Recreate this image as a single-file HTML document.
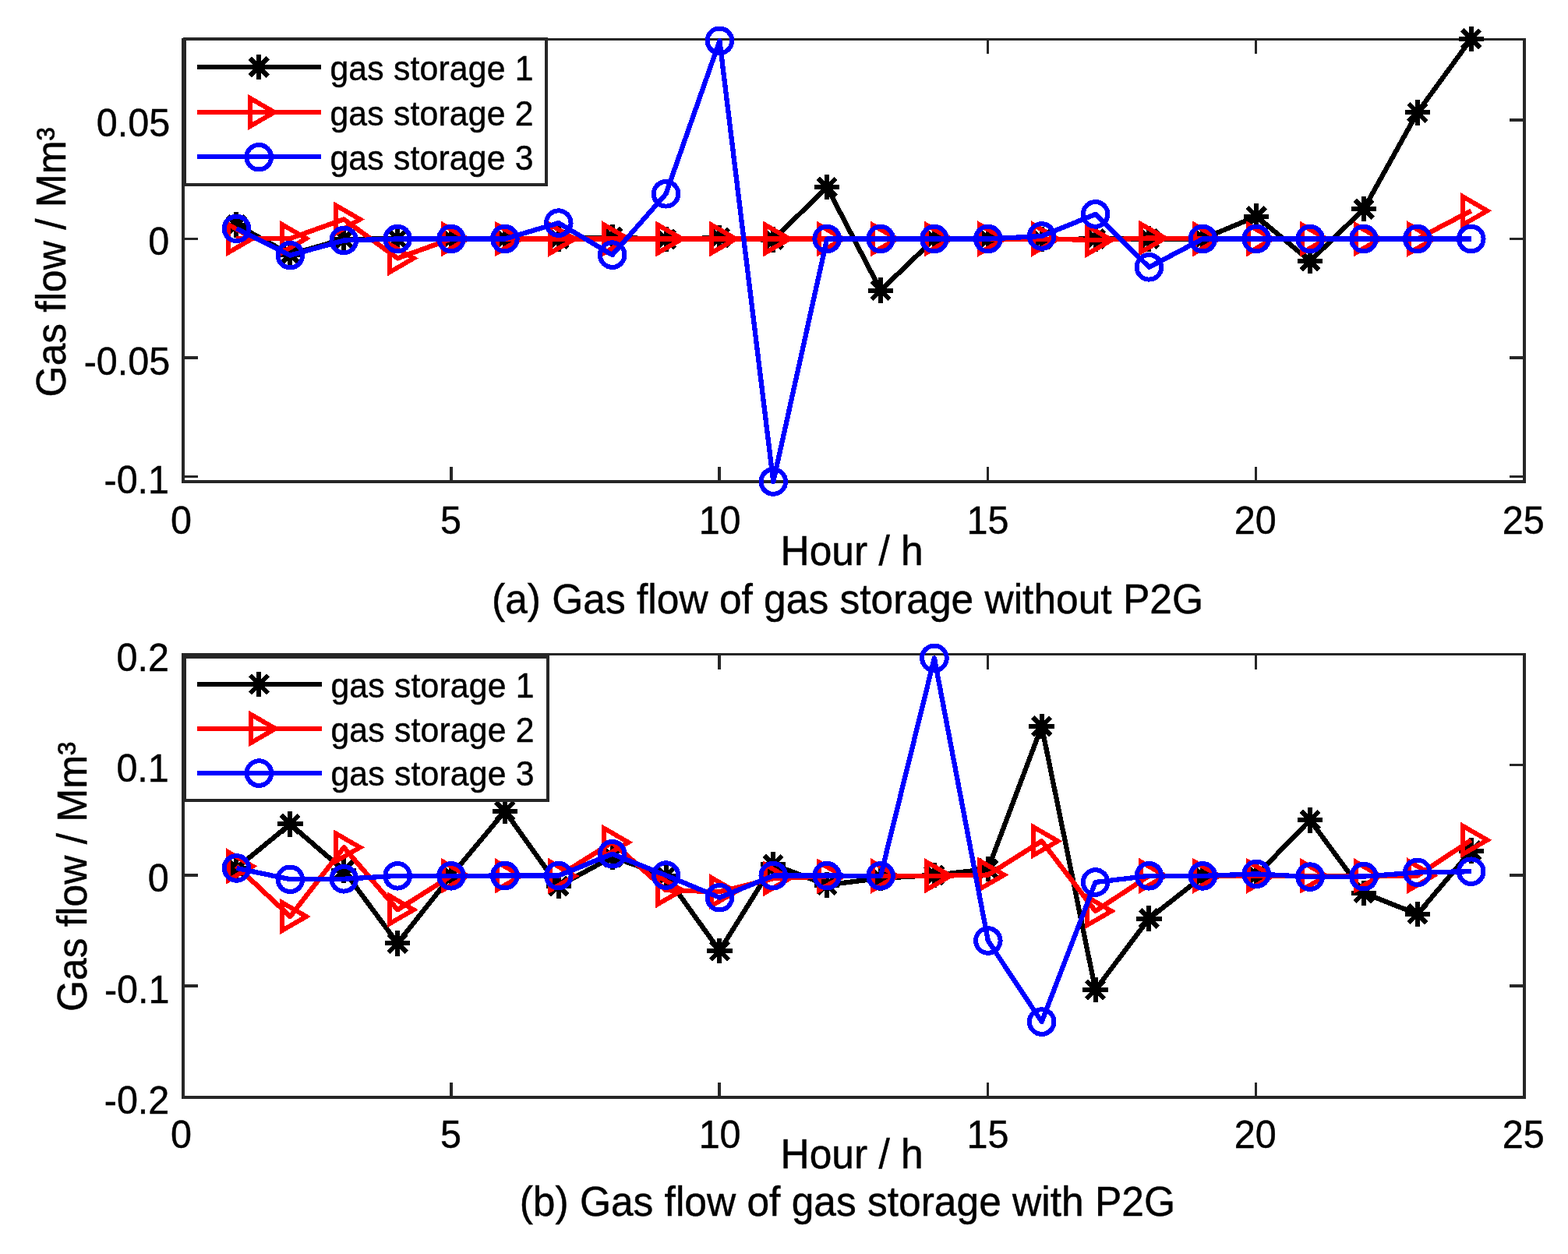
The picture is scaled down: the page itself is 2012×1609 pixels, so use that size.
<!DOCTYPE html>
<html lang="en">
<head>
<meta charset="utf-8">
<title>Gas flow of gas storage</title>
<style>
html,body{margin:0;padding:0;background:#fff;}
body{width:2012px;height:1609px;overflow:hidden;}
svg{display:block;}
svg text{font-family:"Liberation Sans",sans-serif;fill:#000;stroke:#000;stroke-width:0.45px;}
</style>
</head>
<body>
<svg width="2012" height="1609" viewBox="0 0 2012 1609">
<rect width="2012" height="1609" fill="#fff"/>
<g id="plot-a" shape-rendering="crispEdges">
<path d="M233 49h1725v3h-1725zM233 616h1725v4h-1725zM233 49h4v571h-4zM1954 49h4v571h-4zM577 599h4v17h-4zM577 52h4v17h-4zM921 599h4v17h-4zM921 52h4v17h-4zM1266 599h3v17h-3zM1266 52h3v17h-3zM1610 599h3v17h-3zM1610 52h3v17h-3zM237 152h17v4h-17zM1937 152h17v4h-17zM237 305h17v3h-17zM1937 305h17v3h-17zM237 457h17v4h-17zM1937 457h17v4h-17zM237 610h17v3h-17zM1937 610h17v3h-17z" fill="#262626" shape-rendering="crispEdges"/>
<polyline points="303.48,288.5 372.36,326.5 441.24,306.8 510.12,306.5 579,306.5 647.88,306.3 716.76,306.5 785.64,304.5 854.52,307 923.4,305 992.28,307.5 1061.16,240.1 1130.04,372.6 1198.92,306.5 1267.8,306.5 1336.68,307 1405.56,306.5 1474.44,306.5 1543.32,306.5 1612.2,277.6 1681.08,335 1749.96,268.2 1818.84,144.4 1887.72,49.9" fill="none" stroke="#000" stroke-width="6.3" stroke-linejoin="round"/>
<path d="M287.28 288.5H319.68M303.48 272.3V304.7M292.02 277.04L314.94 299.96M292.02 299.96L314.94 277.04M356.16 326.5H388.56M372.36 310.3V342.7M360.9 315.04L383.82 337.96M360.9 337.96L383.82 315.04M425.04 306.8H457.44M441.24 290.6V323M429.78 295.34L452.7 318.26M429.78 318.26L452.7 295.34M493.92 306.5H526.32M510.12 290.3V322.7M498.66 295.04L521.58 317.96M498.66 317.96L521.58 295.04M562.8 306.5H595.2M579 290.3V322.7M567.54 295.04L590.46 317.96M567.54 317.96L590.46 295.04M631.68 306.3H664.08M647.88 290.1V322.5M636.42 294.84L659.34 317.76M636.42 317.76L659.34 294.84M700.56 306.5H732.96M716.76 290.3V322.7M705.3 295.04L728.22 317.96M705.3 317.96L728.22 295.04M769.44 304.5H801.84M785.64 288.3V320.7M774.18 293.04L797.1 315.96M774.18 315.96L797.1 293.04M838.32 307H870.72M854.52 290.8V323.2M843.06 295.54L865.98 318.46M843.06 318.46L865.98 295.54M907.2 305H939.6M923.4 288.8V321.2M911.94 293.54L934.86 316.46M911.94 316.46L934.86 293.54M976.08 307.5H1008.48M992.28 291.3V323.7M980.82 296.04L1003.74 318.96M980.82 318.96L1003.74 296.04M1044.96 240.1H1077.36M1061.16 223.9V256.3M1049.7 228.64L1072.62 251.56M1049.7 251.56L1072.62 228.64M1113.84 372.6H1146.24M1130.04 356.4V388.8M1118.58 361.14L1141.5 384.06M1118.58 384.06L1141.5 361.14M1182.72 306.5H1215.12M1198.92 290.3V322.7M1187.46 295.04L1210.38 317.96M1187.46 317.96L1210.38 295.04M1251.6 306.5H1284M1267.8 290.3V322.7M1256.34 295.04L1279.26 317.96M1256.34 317.96L1279.26 295.04M1320.48 307H1352.88M1336.68 290.8V323.2M1325.22 295.54L1348.14 318.46M1325.22 318.46L1348.14 295.54M1389.36 306.5H1421.76M1405.56 290.3V322.7M1394.1 295.04L1417.02 317.96M1394.1 317.96L1417.02 295.04M1458.24 306.5H1490.64M1474.44 290.3V322.7M1462.98 295.04L1485.9 317.96M1462.98 317.96L1485.9 295.04M1527.12 306.5H1559.52M1543.32 290.3V322.7M1531.86 295.04L1554.78 317.96M1531.86 317.96L1554.78 295.04M1596 277.6H1628.4M1612.2 261.4V293.8M1600.74 266.14L1623.66 289.06M1600.74 289.06L1623.66 266.14M1664.88 335H1697.28M1681.08 318.8V351.2M1669.62 323.54L1692.54 346.46M1669.62 346.46L1692.54 323.54M1733.76 268.2H1766.16M1749.96 252V284.4M1738.5 256.74L1761.42 279.66M1738.5 279.66L1761.42 256.74M1802.64 144.4H1835.04M1818.84 128.2V160.6M1807.38 132.94L1830.3 155.86M1807.38 155.86L1830.3 132.94M1871.52 49.9H1903.92M1887.72 33.7V66.1M1876.26 38.44L1899.18 61.36M1876.26 61.36L1899.18 38.44" fill="none" stroke="#000" stroke-width="6"/>
<polyline points="303.48,306 372.36,306 441.24,281.4 510.12,331.4 579,306.5 647.88,306.5 716.76,306.5 785.64,306.5 854.52,306.5 923.4,306.5 992.28,306.5 1061.16,306.5 1130.04,306.5 1198.92,306.5 1267.8,306.5 1336.68,306.5 1405.56,308 1474.44,305.5 1543.32,306.5 1612.2,306.5 1681.08,306.5 1749.96,306.5 1818.84,306.5 1887.72,270.4" fill="none" stroke="#f00" stroke-width="6.3" stroke-linejoin="round"/>
<path d="M293.13 288.07L324.18 306L293.13 323.93ZM362.01 288.07L393.06 306L362.01 323.93ZM430.89 263.47L461.94 281.4L430.89 299.33ZM499.77 313.47L530.82 331.4L499.77 349.33ZM568.65 288.57L599.7 306.5L568.65 324.43ZM637.53 288.57L668.58 306.5L637.53 324.43ZM706.41 288.57L737.46 306.5L706.41 324.43ZM775.29 288.57L806.34 306.5L775.29 324.43ZM844.17 288.57L875.22 306.5L844.17 324.43ZM913.05 288.57L944.1 306.5L913.05 324.43ZM981.93 288.57L1012.98 306.5L981.93 324.43ZM1050.81 288.57L1081.86 306.5L1050.81 324.43ZM1119.69 288.57L1150.74 306.5L1119.69 324.43ZM1188.57 288.57L1219.62 306.5L1188.57 324.43ZM1257.45 288.57L1288.5 306.5L1257.45 324.43ZM1326.33 288.57L1357.38 306.5L1326.33 324.43ZM1395.21 290.07L1426.26 308L1395.21 325.93ZM1464.09 287.57L1495.14 305.5L1464.09 323.43ZM1532.97 288.57L1564.02 306.5L1532.97 324.43ZM1601.85 288.57L1632.9 306.5L1601.85 324.43ZM1670.73 288.57L1701.78 306.5L1670.73 324.43ZM1739.61 288.57L1770.66 306.5L1739.61 324.43ZM1808.49 288.57L1839.54 306.5L1808.49 324.43ZM1877.37 252.47L1908.42 270.4L1877.37 288.33Z" fill="none" stroke="#f00" stroke-width="6" stroke-miterlimit="10"/>
<polyline points="303.48,293.4 372.36,327.6 441.24,308.5 510.12,306.5 579,306.5 647.88,306.5 716.76,286.1 785.64,327.1 854.52,248.8 923.4,52.3 992.28,618 1061.16,306.5 1130.04,306.5 1198.92,306.5 1267.8,306.5 1336.68,303 1405.56,274.9 1474.44,342.8 1543.32,306.5 1612.2,306.5 1681.08,306.5 1749.96,306.5 1818.84,306.5 1887.72,306.5" fill="none" stroke="#00f" stroke-width="6.3" stroke-linejoin="round"/>
<circle cx="303.48" cy="293.4" r="15.8" fill="none" stroke="#00f" stroke-width="6"/>
<circle cx="372.36" cy="327.6" r="15.8" fill="none" stroke="#00f" stroke-width="6"/>
<circle cx="441.24" cy="308.5" r="15.8" fill="none" stroke="#00f" stroke-width="6"/>
<circle cx="510.12" cy="306.5" r="15.8" fill="none" stroke="#00f" stroke-width="6"/>
<circle cx="579" cy="306.5" r="15.8" fill="none" stroke="#00f" stroke-width="6"/>
<circle cx="647.88" cy="306.5" r="15.8" fill="none" stroke="#00f" stroke-width="6"/>
<circle cx="716.76" cy="286.1" r="15.8" fill="none" stroke="#00f" stroke-width="6"/>
<circle cx="785.64" cy="327.1" r="15.8" fill="none" stroke="#00f" stroke-width="6"/>
<circle cx="854.52" cy="248.8" r="15.8" fill="none" stroke="#00f" stroke-width="6"/>
<circle cx="923.4" cy="52.3" r="15.8" fill="none" stroke="#00f" stroke-width="6"/>
<circle cx="992.28" cy="618" r="15.8" fill="none" stroke="#00f" stroke-width="6"/>
<circle cx="1061.16" cy="306.5" r="15.8" fill="none" stroke="#00f" stroke-width="6"/>
<circle cx="1130.04" cy="306.5" r="15.8" fill="none" stroke="#00f" stroke-width="6"/>
<circle cx="1198.92" cy="306.5" r="15.8" fill="none" stroke="#00f" stroke-width="6"/>
<circle cx="1267.8" cy="306.5" r="15.8" fill="none" stroke="#00f" stroke-width="6"/>
<circle cx="1336.68" cy="303" r="15.8" fill="none" stroke="#00f" stroke-width="6"/>
<circle cx="1405.56" cy="274.9" r="15.8" fill="none" stroke="#00f" stroke-width="6"/>
<circle cx="1474.44" cy="342.8" r="15.8" fill="none" stroke="#00f" stroke-width="6"/>
<circle cx="1543.32" cy="306.5" r="15.8" fill="none" stroke="#00f" stroke-width="6"/>
<circle cx="1612.2" cy="306.5" r="15.8" fill="none" stroke="#00f" stroke-width="6"/>
<circle cx="1681.08" cy="306.5" r="15.8" fill="none" stroke="#00f" stroke-width="6"/>
<circle cx="1749.96" cy="306.5" r="15.8" fill="none" stroke="#00f" stroke-width="6"/>
<circle cx="1818.84" cy="306.5" r="15.8" fill="none" stroke="#00f" stroke-width="6"/>
<circle cx="1887.72" cy="306.5" r="15.8" fill="none" stroke="#00f" stroke-width="6"/>
<rect x="237" y="50" width="464" height="187" fill="#fff" stroke="#262626" stroke-width="4" shape-rendering="crispEdges"/>
<line x1="253" y1="86" x2="412.3" y2="86" stroke="#000" stroke-width="6"/>
<path d="M316 86H348.4M332.2 69.8V102.2M320.74 74.54L343.66 97.46M320.74 97.46L343.66 74.54" fill="none" stroke="#000" stroke-width="6"/>
<text transform="translate(423.4 102.7) scale(1 1.03)" font-size="42.7" letter-spacing="0.2">gas storage 1</text>
<line x1="253" y1="144" x2="412.3" y2="144" stroke="#f00" stroke-width="6"/>
<path d="M321.05 126.07L352.1 144L321.05 161.93Z" fill="none" stroke="#f00" stroke-width="6" stroke-miterlimit="10"/>
<text transform="translate(423.4 160.7) scale(1 1.03)" font-size="42.7" letter-spacing="0.2">gas storage 2</text>
<line x1="253" y1="201.2" x2="412.3" y2="201.2" stroke="#00f" stroke-width="6"/>
<circle cx="332.2" cy="201.7" r="15.8" fill="none" stroke="#00f" stroke-width="6"/>
<text transform="translate(423.4 217.9) scale(1 1.03)" font-size="42.7" letter-spacing="0.2">gas storage 3</text>
<text transform="translate(219 684.6) scale(1 1.03)" font-size="48.5">0</text>
<text transform="translate(565.1 684.6) scale(1 1.03)" font-size="48.5">5</text>
<text transform="translate(896.65 684.6) scale(1 1.03)" font-size="48.5">10</text>
<text transform="translate(1240.45 684.6) scale(1 1.03)" font-size="48.5">15</text>
<text transform="translate(1583.7 684.6) scale(1 1.03)" font-size="48.5">20</text>
<text transform="translate(1927.7 684.6) scale(1 1.03)" font-size="48.5">25</text>
<text transform="translate(123.75 174.7) scale(1 1.03)" font-size="48.5">0.05</text>
<text transform="translate(190.25 327.4) scale(1 1.03)" font-size="48.5">0</text>
<text transform="translate(107.65 480.6) scale(1 1.03)" font-size="48.5">-0.05</text>
<text transform="translate(133.5 632.8) scale(1 1.03)" font-size="48.5">-0.1</text>
<text transform="translate(1001.55 725.3) scale(1 1.03)" font-size="51.5">Hour / h</text>
<text transform="translate(631.05 786.9) scale(1 1.03)" font-size="51.5">(a) Gas flow of gas storage without P2G</text>
<text transform="translate(83.8 509.4) rotate(-90) scale(1 1.03)" font-size="51.5">Gas flow / Mm³</text>
</g>
<g id="plot-b" shape-rendering="crispEdges">
<path d="M233 838h1725v3h-1725zM233 1406h1725v4h-1725zM233 838h4v572h-4zM1954 838h4v572h-4zM577 1389h4v17h-4zM577 841h4v18h-4zM921 1389h4v17h-4zM921 841h4v18h-4zM1266 1389h3v17h-3zM1266 841h3v18h-3zM1610 1389h3v17h-3zM1610 841h3v18h-3zM237 980h17v3h-17zM1937 980h17v3h-17zM237 1121h17v4h-17zM1937 1121h17v4h-17zM237 1263h17v4h-17zM1937 1263h17v4h-17z" fill="#262626" shape-rendering="crispEdges"/>
<polyline points="303.48,1113.9 372.36,1057.4 441.24,1117 510.12,1210.3 579,1123.5 647.88,1040.8 716.76,1137 785.64,1099.5 854.52,1124 923.4,1220 992.28,1109.4 1061.16,1135.5 1130.04,1126.8 1198.92,1123 1267.8,1115 1336.68,931.9 1405.56,1270 1474.44,1178.6 1543.32,1124.5 1612.2,1123 1681.08,1052.3 1749.96,1145.8 1818.84,1172.9 1887.72,1091.6" fill="none" stroke="#000" stroke-width="6.3" stroke-linejoin="round"/>
<path d="M287.28 1113.9H319.68M303.48 1097.7V1130.1M292.02 1102.44L314.94 1125.36M292.02 1125.36L314.94 1102.44M356.16 1057.4H388.56M372.36 1041.2V1073.6M360.9 1045.94L383.82 1068.86M360.9 1068.86L383.82 1045.94M425.04 1117H457.44M441.24 1100.8V1133.2M429.78 1105.54L452.7 1128.46M429.78 1128.46L452.7 1105.54M493.92 1210.3H526.32M510.12 1194.1V1226.5M498.66 1198.84L521.58 1221.76M498.66 1221.76L521.58 1198.84M562.8 1123.5H595.2M579 1107.3V1139.7M567.54 1112.04L590.46 1134.96M567.54 1134.96L590.46 1112.04M631.68 1040.8H664.08M647.88 1024.6V1057M636.42 1029.34L659.34 1052.26M636.42 1052.26L659.34 1029.34M700.56 1137H732.96M716.76 1120.8V1153.2M705.3 1125.54L728.22 1148.46M705.3 1148.46L728.22 1125.54M769.44 1099.5H801.84M785.64 1083.3V1115.7M774.18 1088.04L797.1 1110.96M774.18 1110.96L797.1 1088.04M838.32 1124H870.72M854.52 1107.8V1140.2M843.06 1112.54L865.98 1135.46M843.06 1135.46L865.98 1112.54M907.2 1220H939.6M923.4 1203.8V1236.2M911.94 1208.54L934.86 1231.46M911.94 1231.46L934.86 1208.54M976.08 1109.4H1008.48M992.28 1093.2V1125.6M980.82 1097.94L1003.74 1120.86M980.82 1120.86L1003.74 1097.94M1044.96 1135.5H1077.36M1061.16 1119.3V1151.7M1049.7 1124.04L1072.62 1146.96M1049.7 1146.96L1072.62 1124.04M1113.84 1126.8H1146.24M1130.04 1110.6V1143M1118.58 1115.34L1141.5 1138.26M1118.58 1138.26L1141.5 1115.34M1182.72 1123H1215.12M1198.92 1106.8V1139.2M1187.46 1111.54L1210.38 1134.46M1187.46 1134.46L1210.38 1111.54M1251.6 1115H1284M1267.8 1098.8V1131.2M1256.34 1103.54L1279.26 1126.46M1256.34 1126.46L1279.26 1103.54M1320.48 931.9H1352.88M1336.68 915.7V948.1M1325.22 920.44L1348.14 943.36M1325.22 943.36L1348.14 920.44M1389.36 1270H1421.76M1405.56 1253.8V1286.2M1394.1 1258.54L1417.02 1281.46M1394.1 1281.46L1417.02 1258.54M1458.24 1178.6H1490.64M1474.44 1162.4V1194.8M1462.98 1167.14L1485.9 1190.06M1462.98 1190.06L1485.9 1167.14M1527.12 1124.5H1559.52M1543.32 1108.3V1140.7M1531.86 1113.04L1554.78 1135.96M1531.86 1135.96L1554.78 1113.04M1596 1123H1628.4M1612.2 1106.8V1139.2M1600.74 1111.54L1623.66 1134.46M1600.74 1134.46L1623.66 1111.54M1664.88 1052.3H1697.28M1681.08 1036.1V1068.5M1669.62 1040.84L1692.54 1063.76M1669.62 1063.76L1692.54 1040.84M1733.76 1145.8H1766.16M1749.96 1129.6V1162M1738.5 1134.34L1761.42 1157.26M1738.5 1157.26L1761.42 1134.34M1802.64 1172.9H1835.04M1818.84 1156.7V1189.1M1807.38 1161.44L1830.3 1184.36M1807.38 1184.36L1830.3 1161.44M1871.52 1091.6H1903.92M1887.72 1075.4V1107.8M1876.26 1080.14L1899.18 1103.06M1876.26 1103.06L1899.18 1080.14" fill="none" stroke="#000" stroke-width="6"/>
<polyline points="303.48,1111.4 372.36,1176 441.24,1087.3 510.12,1167.3 579,1123.8 647.88,1123.8 716.76,1124 785.64,1080.8 854.52,1142.2 923.4,1144.2 992.28,1127.3 1061.16,1124.3 1130.04,1124 1198.92,1123.8 1267.8,1122.6 1336.68,1079.2 1405.56,1169 1474.44,1123.8 1543.32,1123.8 1612.2,1123.8 1681.08,1123.8 1749.96,1123.9 1818.84,1123.6 1887.72,1077.9" fill="none" stroke="#f00" stroke-width="6.3" stroke-linejoin="round"/>
<path d="M293.13 1093.47L324.18 1111.4L293.13 1129.33ZM362.01 1158.07L393.06 1176L362.01 1193.93ZM430.89 1069.37L461.94 1087.3L430.89 1105.23ZM499.77 1149.37L530.82 1167.3L499.77 1185.23ZM568.65 1105.87L599.7 1123.8L568.65 1141.73ZM637.53 1105.87L668.58 1123.8L637.53 1141.73ZM706.41 1106.07L737.46 1124L706.41 1141.93ZM775.29 1062.87L806.34 1080.8L775.29 1098.73ZM844.17 1124.27L875.22 1142.2L844.17 1160.13ZM913.05 1126.27L944.1 1144.2L913.05 1162.13ZM981.93 1109.37L1012.98 1127.3L981.93 1145.23ZM1050.81 1106.37L1081.86 1124.3L1050.81 1142.23ZM1119.69 1106.07L1150.74 1124L1119.69 1141.93ZM1188.57 1105.87L1219.62 1123.8L1188.57 1141.73ZM1257.45 1104.67L1288.5 1122.6L1257.45 1140.53ZM1326.33 1061.27L1357.38 1079.2L1326.33 1097.13ZM1395.21 1151.07L1426.26 1169L1395.21 1186.93ZM1464.09 1105.87L1495.14 1123.8L1464.09 1141.73ZM1532.97 1105.87L1564.02 1123.8L1532.97 1141.73ZM1601.85 1105.87L1632.9 1123.8L1601.85 1141.73ZM1670.73 1105.87L1701.78 1123.8L1670.73 1141.73ZM1739.61 1105.97L1770.66 1123.9L1739.61 1141.83ZM1808.49 1105.67L1839.54 1123.6L1808.49 1141.53ZM1877.37 1059.97L1908.42 1077.9L1877.37 1095.83Z" fill="none" stroke="#f00" stroke-width="6" stroke-miterlimit="10"/>
<polyline points="303.48,1113.9 372.36,1128.3 441.24,1127.8 510.12,1123.8 579,1123.8 647.88,1123.6 716.76,1123.6 785.64,1095.7 854.52,1123.1 923.4,1151.7 992.28,1123.6 1061.16,1123.6 1130.04,1123.8 1198.92,844.4 1267.8,1207 1336.68,1311.1 1405.56,1132 1474.44,1123.8 1543.32,1123.9 1612.2,1121.4 1681.08,1125.1 1749.96,1124.6 1818.84,1119.4 1887.72,1118.2" fill="none" stroke="#00f" stroke-width="6.3" stroke-linejoin="round"/>
<circle cx="303.48" cy="1113.9" r="15.8" fill="none" stroke="#00f" stroke-width="6"/>
<circle cx="372.36" cy="1128.3" r="15.8" fill="none" stroke="#00f" stroke-width="6"/>
<circle cx="441.24" cy="1127.8" r="15.8" fill="none" stroke="#00f" stroke-width="6"/>
<circle cx="510.12" cy="1123.8" r="15.8" fill="none" stroke="#00f" stroke-width="6"/>
<circle cx="579" cy="1123.8" r="15.8" fill="none" stroke="#00f" stroke-width="6"/>
<circle cx="647.88" cy="1123.6" r="15.8" fill="none" stroke="#00f" stroke-width="6"/>
<circle cx="716.76" cy="1123.6" r="15.8" fill="none" stroke="#00f" stroke-width="6"/>
<circle cx="785.64" cy="1095.7" r="15.8" fill="none" stroke="#00f" stroke-width="6"/>
<circle cx="854.52" cy="1123.1" r="15.8" fill="none" stroke="#00f" stroke-width="6"/>
<circle cx="923.4" cy="1151.7" r="15.8" fill="none" stroke="#00f" stroke-width="6"/>
<circle cx="992.28" cy="1123.6" r="15.8" fill="none" stroke="#00f" stroke-width="6"/>
<circle cx="1061.16" cy="1123.6" r="15.8" fill="none" stroke="#00f" stroke-width="6"/>
<circle cx="1130.04" cy="1123.8" r="15.8" fill="none" stroke="#00f" stroke-width="6"/>
<circle cx="1198.92" cy="844.4" r="15.8" fill="none" stroke="#00f" stroke-width="6"/>
<circle cx="1267.8" cy="1207" r="15.8" fill="none" stroke="#00f" stroke-width="6"/>
<circle cx="1336.68" cy="1311.1" r="15.8" fill="none" stroke="#00f" stroke-width="6"/>
<circle cx="1405.56" cy="1132" r="15.8" fill="none" stroke="#00f" stroke-width="6"/>
<circle cx="1474.44" cy="1123.8" r="15.8" fill="none" stroke="#00f" stroke-width="6"/>
<circle cx="1543.32" cy="1123.9" r="15.8" fill="none" stroke="#00f" stroke-width="6"/>
<circle cx="1612.2" cy="1121.4" r="15.8" fill="none" stroke="#00f" stroke-width="6"/>
<circle cx="1681.08" cy="1125.1" r="15.8" fill="none" stroke="#00f" stroke-width="6"/>
<circle cx="1749.96" cy="1124.6" r="15.8" fill="none" stroke="#00f" stroke-width="6"/>
<circle cx="1818.84" cy="1119.4" r="15.8" fill="none" stroke="#00f" stroke-width="6"/>
<circle cx="1887.72" cy="1118.2" r="15.8" fill="none" stroke="#00f" stroke-width="6"/>
<rect x="237" y="843" width="466" height="184" fill="#fff" stroke="#262626" stroke-width="4" shape-rendering="crispEdges"/>
<line x1="253" y1="877.9" x2="412.7" y2="877.9" stroke="#000" stroke-width="6"/>
<path d="M316.2 877.9H348.6M332.4 861.7V894.1M320.94 866.44L343.86 889.36M320.94 889.36L343.86 866.44" fill="none" stroke="#000" stroke-width="6"/>
<text transform="translate(424.4 894.6) scale(1 1.03)" font-size="42.7" letter-spacing="0.2">gas storage 1</text>
<line x1="253" y1="934.9" x2="412.7" y2="934.9" stroke="#f00" stroke-width="6"/>
<path d="M322.45 916.97L353.5 934.9L322.45 952.83Z" fill="none" stroke="#f00" stroke-width="6" stroke-miterlimit="10"/>
<text transform="translate(424.4 951.6) scale(1 1.03)" font-size="42.7" letter-spacing="0.2">gas storage 2</text>
<line x1="253" y1="991.6" x2="412.7" y2="991.6" stroke="#00f" stroke-width="6"/>
<circle cx="332.4" cy="992.1" r="15.8" fill="none" stroke="#00f" stroke-width="6"/>
<text transform="translate(424.4 1008.3) scale(1 1.03)" font-size="42.7" letter-spacing="0.2">gas storage 3</text>
<text transform="translate(219 1473.4) scale(1 1.03)" font-size="48.5">0</text>
<text transform="translate(565.1 1473.4) scale(1 1.03)" font-size="48.5">5</text>
<text transform="translate(896.65 1473.4) scale(1 1.03)" font-size="48.5">10</text>
<text transform="translate(1240.45 1473.4) scale(1 1.03)" font-size="48.5">15</text>
<text transform="translate(1583.7 1473.4) scale(1 1.03)" font-size="48.5">20</text>
<text transform="translate(1927.7 1473.4) scale(1 1.03)" font-size="48.5">25</text>
<text transform="translate(149.5 861) scale(1 1.03)" font-size="48.5">0.2</text>
<text transform="translate(149.4 1002.5) scale(1 1.03)" font-size="48.5">0.1</text>
<text transform="translate(189.8 1144.4) scale(1 1.03)" font-size="48.5">0</text>
<text transform="translate(133.9 1286.6) scale(1 1.03)" font-size="48.5">-0.1</text>
<text transform="translate(133.75 1429) scale(1 1.03)" font-size="48.5">-0.2</text>
<text transform="translate(1001.55 1498.9) scale(1 1.03)" font-size="51.5">Hour / h</text>
<text transform="translate(666.65 1559.9) scale(1 1.03)" font-size="51.5">(b) Gas flow of gas storage with P2G</text>
<text transform="translate(111.3 1297.95) rotate(-90) scale(1 1.03)" font-size="51.5">Gas flow / Mm³</text>
</g>
</svg>
</body>
</html>
